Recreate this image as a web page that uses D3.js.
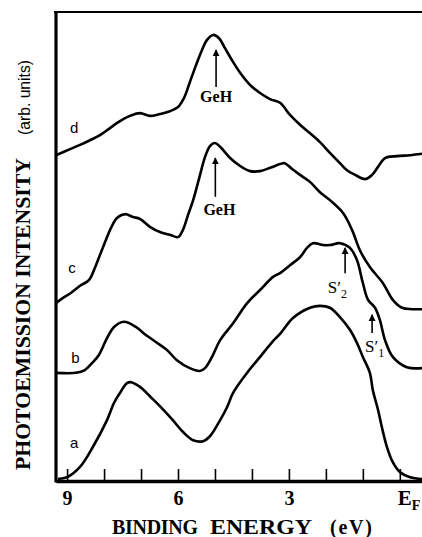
<!DOCTYPE html>
<html>
<head>
<meta charset="utf-8">
<script src="https://cdn.jsdelivr.net/npm/d3@7"></script>
<style>
    body { margin: 0; background: #fff; }
    #chart { width: 422px; height: 537px; }
    .serif { font-family: "Liberation Serif", "Times New Roman", serif; font-weight: bold; }
    .sans { font-family: "Liberation Sans", Arial, sans-serif; }
</style>
</head>
<body>
<div id="chart"></div>
<script>

/* DATA: binding energy (eV) and intensity (arb. units, curves already offset) */
const energyA = [9.25, 9.00, 8.65, 8.30, 7.92, 7.73, 7.57, 7.38, 7.27, 7.11, 6.95, 6.76, 6.49, 6.14, 5.87, 5.59, 5.32, 5.13, 4.86, 4.67, 4.51, 4.13, 3.78, 3.43, 3.24, 2.89, 2.43, 2.16, 1.89, 1.62, 1.35, 1.16, 1.00, 0.81, 0.73, 0.59, 0.48, 0.35, 0.19, 0.00, -0.28, -0.60];
const intensityA = [0.2, 0.6, 2.8, 7.1, 12.8, 16.5, 18.6, 20.7, 20.9, 20.3, 19.4, 17.9, 15.8, 12.8, 10.3, 8.5, 8.3, 9.4, 12.8, 15.6, 18.6, 22.9, 26.3, 29.7, 31.2, 34.6, 36.8, 37.2, 36.8, 34.8, 32.1, 29.3, 26.3, 22.9, 19.2, 15.0, 11.1, 7.1, 3.8, 1.7, 0.6, 0.2];

const energyB = [9.30, 8.76, 8.52, 8.30, 8.14, 7.92, 7.73, 7.46, 7.14, 6.87, 6.60, 6.30, 6.03, 5.68, 5.41, 5.27, 5.08, 4.86, 4.51, 4.13, 3.78, 3.43, 3.24, 2.97, 2.70, 2.51, 2.35, 2.08, 1.89, 1.62, 1.35, 1.16, 1.00, 0.86, 0.67, 0.54, 0.40, 0.19, -0.19, -0.60];
const intensityB = [22.9, 22.9, 23.5, 25.2, 26.7, 30.3, 32.7, 33.8, 32.7, 31.0, 29.5, 27.8, 25.6, 23.9, 23.3, 23.9, 26.3, 29.9, 33.5, 37.8, 40.6, 43.4, 44.2, 45.9, 47.6, 49.6, 50.6, 50.2, 50.2, 50.6, 49.6, 47.0, 42.1, 38.5, 36.8, 34.2, 29.9, 26.3, 24.1, 23.9];

const energyC = [9.30, 9.11, 8.89, 8.65, 8.41, 8.25, 8.11, 7.97, 7.84, 7.65, 7.43, 7.22, 7.03, 6.76, 6.49, 6.22, 6.00, 5.87, 5.73, 5.59, 5.41, 5.27, 5.13, 5.00, 4.86, 4.59, 4.32, 4.05, 3.78, 3.51, 3.24, 3.11, 2.92, 2.70, 2.43, 2.16, 1.89, 1.54, 1.29, 1.08, 0.81, 0.46, 0.19, -0.06, -0.33, -0.60];
const intensityC = [37.8, 38.9, 40.0, 41.5, 42.7, 45.3, 48.1, 50.9, 53.4, 56.0, 56.8, 56.2, 55.8, 54.1, 53.0, 52.4, 51.9, 53.4, 56.6, 59.8, 65.0, 69.0, 71.4, 72.0, 71.2, 68.8, 67.1, 66.0, 66.0, 66.7, 67.5, 67.7, 66.5, 65.2, 63.7, 61.5, 59.8, 57.1, 53.4, 49.1, 45.5, 42.1, 38.5, 36.8, 36.5, 36.5];

const energyD = [9.30, 8.92, 8.65, 8.38, 8.11, 7.84, 7.57, 7.30, 7.03, 6.76, 6.49, 6.22, 6.00, 5.84, 5.68, 5.51, 5.35, 5.22, 5.05, 4.89, 4.73, 4.54, 4.32, 4.05, 3.78, 3.51, 3.24, 2.97, 2.70, 2.43, 2.16, 1.89, 1.62, 1.43, 1.21, 0.94, 0.75, 0.59, 0.40, 0.08, -0.28, -0.60];
const intensityD = [69.4, 70.7, 71.6, 72.6, 73.7, 75.2, 76.7, 77.8, 78.4, 77.8, 78.2, 78.8, 79.7, 81.6, 85.0, 88.7, 91.9, 94.0, 95.1, 94.4, 92.3, 89.7, 87.0, 84.4, 82.7, 81.4, 80.6, 78.0, 75.9, 74.1, 72.2, 69.9, 67.7, 66.2, 65.2, 64.3, 65.2, 66.9, 68.8, 69.2, 69.4, 69.7];

const curveNames = ["a", "b", "c", "d"];
const labelEnergy = [8.92, 8.89, 8.97, 8.92];
const labelIntensity = [6.8, 25.0, 44.2, 74.1];

const tickValues = [9, 8, 7, 6, 5, 4, 3, 2, 1, 0];
const tickLabels = {9: "9", 6: "6", 3: "3"};

/* arrows: energy, tail intensity, tip intensity */
const arrowEnergy = [4.97, 4.99, 1.48, 0.75];
const arrowTail = [84.0, 60.5, 44.2, 31.4];
const arrowTip = [91.9, 68.8, 49.6, 35.3];

/* DIMENSIONS + SVG */
const width = 422;
const height = 537;
const margin = {top: 12, left: 56, right: 0, bottom: 56};

const svg = d3.select("#chart")
    .append("svg")
    .attr("width", width)
    .attr("height", height);

/* SCALES */
const xScale = d3.scaleLinear()
    .domain([9.3, -0.6])
    .range([margin.left, width - margin.right]);

const yScale = d3.scaleLinear()
    .domain([0, 100])
    .range([height - margin.bottom - 1, margin.top]);

const axisY = height - margin.bottom;

/* AXES */
const xAxis = svg.append("g")
    .attr("class", "serif")
    .attr("transform", `translate(0,${axisY})`)
    .call(d3.axisBottom(xScale)
        .tickValues(tickValues)
        .tickSizeInner(-12)
        .tickSizeOuter(0)
        .tickPadding(10)
        .tickFormat(d => tickLabels[d] || ""));

xAxis.select(".domain")
    .attr("stroke", "#000")
    .attr("stroke-width", 3.5);
xAxis.selectAll(".tick line")
    .attr("stroke", "#000")
    .attr("stroke-width", 1.6);
xAxis.selectAll(".tick text")
    .attr("fill", "#000")
    .style("font-size", "20px")
    .style("font-family", "Liberation Serif, serif")
    .style("font-weight", "bold");

// E_F label at zero
const efLabel = svg.append("text")
    .attr("class", "serif")
    .attr("x", xScale(0) - 2)
    .attr("y", axisY + 24)
    .style("font-size", "21px")
    .text("E");
efLabel.append("tspan")
    .attr("dy", 5)
    .style("font-size", "14px")
    .text("F");

// left axis and top frame
svg.append("line")
    .attr("x1", margin.left).attr("x2", margin.left)
    .attr("y1", margin.top).attr("y2", axisY + 1.5)
    .attr("stroke", "#000")
    .attr("stroke-width", 3.2);

svg.append("line")
    .attr("x1", margin.left - 2).attr("x2", width)
    .attr("y1", margin.top).attr("y2", margin.top)
    .attr("stroke", "#000")
    .attr("stroke-width", 2);

/* CURVES */
const series = [
    d3.zip(energyA, intensityA),
    d3.zip(energyB, intensityB),
    d3.zip(energyC, intensityC),
    d3.zip(energyD, intensityD)
];

const line = d3.line()
    .x(d => xScale(d[0]))
    .y(d => yScale(d[1]))
    .curve(d3.curveCatmullRom.alpha(0.5));

svg.append("g")
    .selectAll("path")
    .data(series)
    .enter()
    .append("path")
    .attr("d", line)
    .attr("fill", "none")
    .attr("stroke", "#000")
    .attr("stroke-width", 2.6)
    .attr("stroke-linejoin", "round");

svg.append("g")
    .selectAll("text")
    .data(curveNames)
    .enter()
    .append("text")
    .attr("class", "sans")
    .attr("x", (d, i) => xScale(labelEnergy[i]))
    .attr("y", (d, i) => yScale(labelIntensity[i]))
    .style("font-size", "15px")
    .text(d => d);

/* ARROWS + ANNOTATIONS */
const defs = svg.append("defs");
defs.append("marker")
    .attr("id", "head")
    .attr("markerUnits", "userSpaceOnUse")
    .attr("viewBox", "0 0 10 10")
    .attr("refX", 9)
    .attr("refY", 5)
    .attr("markerWidth", 7)
    .attr("markerHeight", 9)
    .attr("orient", "auto")
    .append("path")
    .attr("d", "M0,0 L10,5 L0,10 Z")
    .attr("fill", "#000");

svg.append("g")
    .selectAll("line")
    .data(arrowEnergy)
    .enter()
    .append("line")
    .attr("x1", d => xScale(d))
    .attr("x2", d => xScale(d))
    .attr("y1", (d, i) => yScale(arrowTail[i]))
    .attr("y2", (d, i) => yScale(arrowTip[i]))
    .attr("stroke", "#000")
    .attr("stroke-width", 1.6)
    .attr("marker-end", "url(#head)");

svg.append("text")
    .attr("class", "serif")
    .attr("x", xScale(4.97))
    .attr("y", yScale(80.8))
    .attr("text-anchor", "middle")
    .style("font-size", "16px")
    .text("GeH");

svg.append("text")
    .attr("class", "serif")
    .attr("x", xScale(4.88))
    .attr("y", yScale(56.6))
    .attr("text-anchor", "middle")
    .style("font-size", "16px")
    .text("GeH");

// S'2 and S'1 labels, prime and subscript written as one text each
const s2 = svg.append("text")
    .attr("class", "serif")
    .attr("x", xScale(1.95))
    .attr("y", yScale(40.0))
    .style("font-size", "17px")
    .style("font-weight", "normal");
s2.append("tspan").text("S′");
s2.append("tspan").attr("dy", 5).style("font-size", "12px").text("2");

const s1 = svg.append("text")
    .attr("class", "serif")
    .attr("x", xScale(0.94))
    .attr("y", yScale(27.4))
    .style("font-size", "17px")
    .style("font-weight", "normal");
s1.append("tspan").text("S′");
s1.append("tspan").attr("dy", 5).style("font-size", "12px").text("1");

/* AXIS LABELS */
const xAxisLabel = svg.append("text")
    .attr("class", "serif")
    .attr("y", 534)
    .style("font-size", "20px");
xAxisLabel.append("tspan").attr("x", 112).attr("textLength", 86).text("BINDING");
xAxisLabel.append("tspan").attr("x", 210).attr("textLength", 102).attr("lengthAdjust", "spacingAndGlyphs").text("ENERGY");
xAxisLabel.append("tspan").attr("x", 330).attr("textLength", 42).text("(eV)");

const yAxisLabel = svg.append("g")
    .attr("transform", "translate(30,470) rotate(-90)");
yAxisLabel.append("text")
    .attr("class", "serif")
    .attr("x", 0)
    .attr("y", 0)
    .attr("textLength", 312)
    .attr("lengthAdjust", "spacingAndGlyphs")
    .style("font-size", "21px")
    .text("PHOTOEMISSION INTENSITY");
yAxisLabel.append("text")
    .attr("class", "sans")
    .attr("x", 335)
    .attr("y", 0)
    .attr("textLength", 75)
    .attr("lengthAdjust", "spacingAndGlyphs")
    .style("font-size", "17px")
    .text("(arb. units)");

</script>
</body>
</html>
